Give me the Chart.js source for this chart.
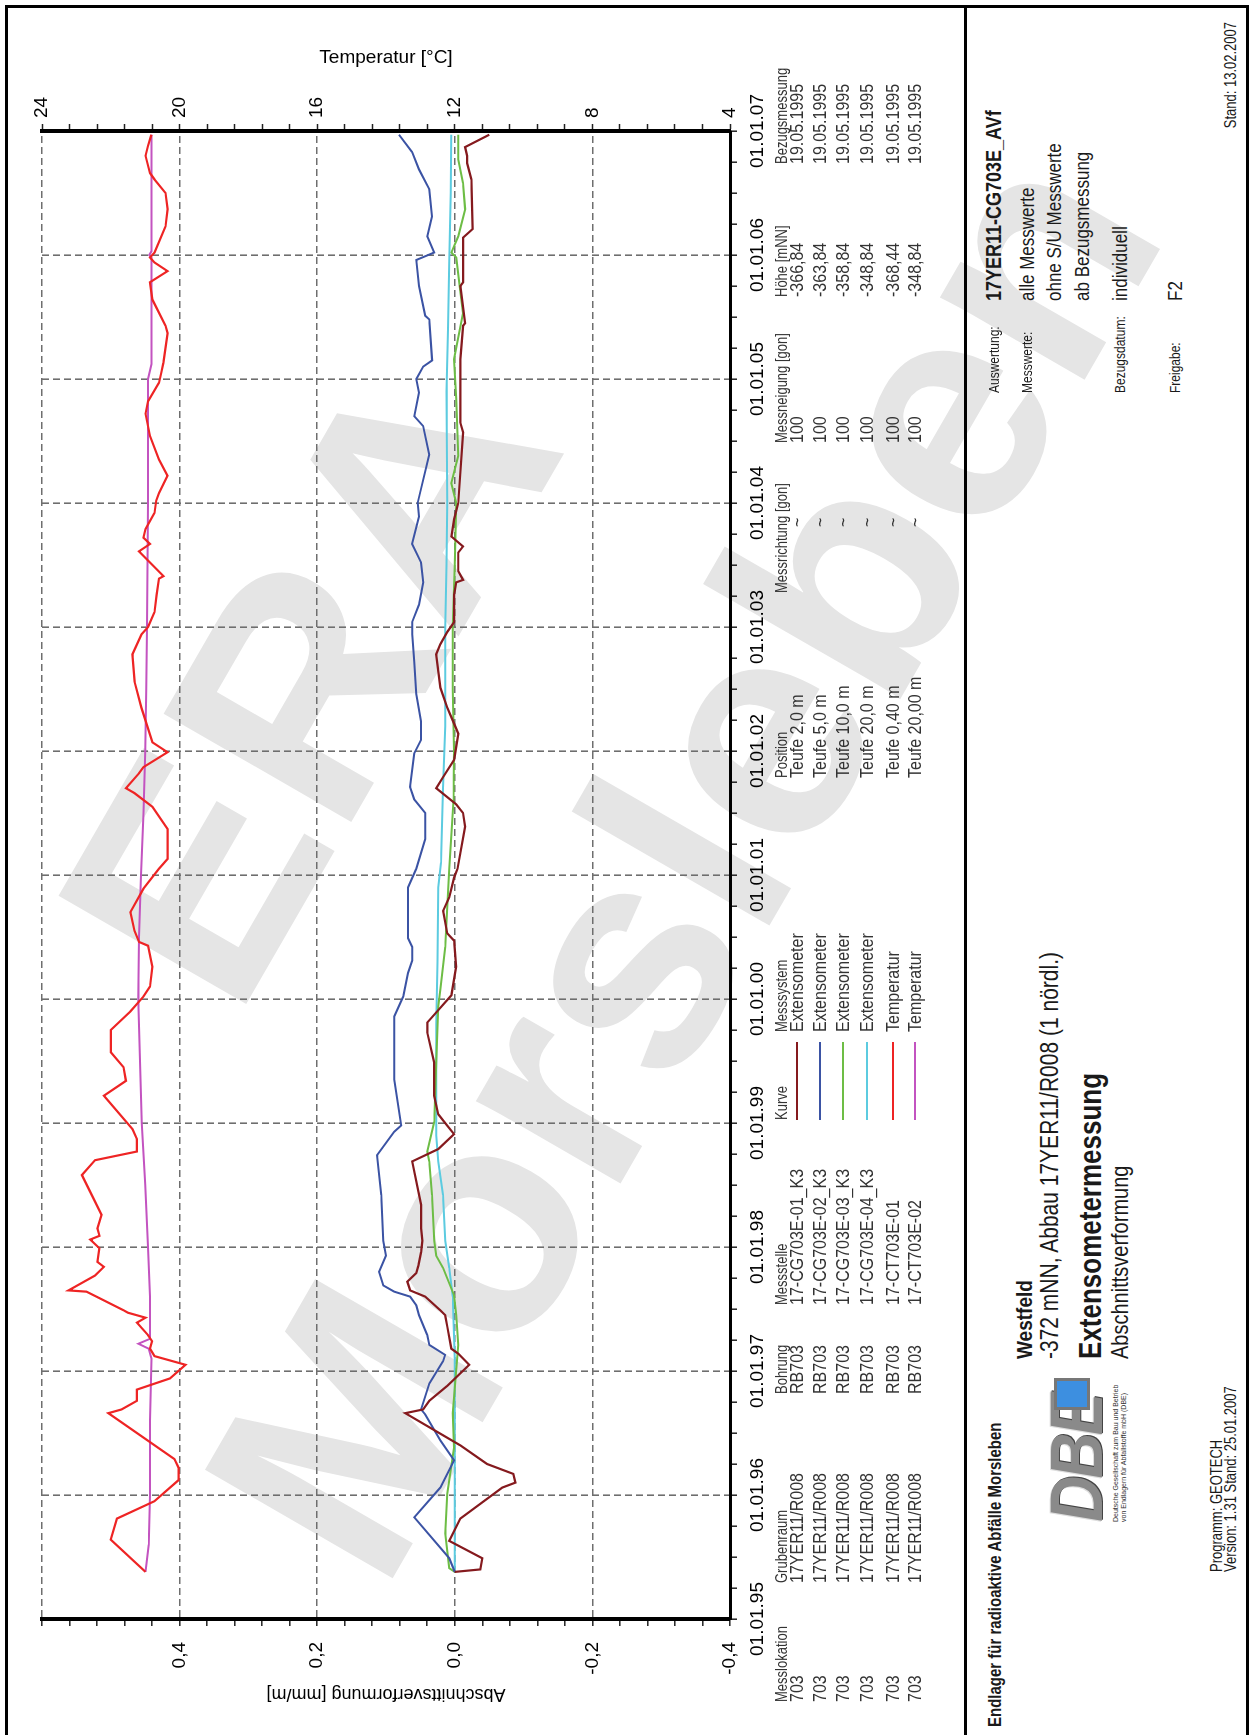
<!DOCTYPE html>
<html>
<head>
<meta charset="utf-8">
<script src="https://cdn.jsdelivr.net/npm/chart.js@4.4.1/dist/chart.umd.min.js"></script>
<style>
html, body { margin: 0; padding: 0; background: #fff; }
body { width: 1254px; height: 1735px; position: relative; overflow: hidden; font-family: 'Liberation Sans', Arial, sans-serif; }
.wm { position: absolute; font-weight: bold; font-size: 315px; color: #e5e5e5; white-space: nowrap; line-height: 1; transform: translate(-50%, -50%) rotate(-60deg); }
.frame { position: absolute; background: #000; }
#sheet { position: absolute; left: 0; top: 0; width: 1735px; height: 1254px; transform-origin: 0 0; transform: translateY(1735px) rotate(-90deg); }
#chart { position: absolute; left: 0; top: 0; width: 1735px; height: 790px; }
.t { position: absolute; white-space: nowrap; line-height: 1; transform-origin: left center; transform: translateY(-50%) scaleY(1.2); color: #1a1a1a; }
.t.right { transform-origin: right center; transform: translate(-100%, -50%) scaleY(1.2); }
.hdr { font-size: 13px; color: #333; }
.cell { font-size: 16px; color: #333; }
.lab { font-size: 12px; }
.val { font-size: 17px; }
.b18 { font-size: 18px; font-weight: bold; }
.b15 { font-size: 15px; font-weight: bold; }
.b19 { font-size: 19px; font-weight: bold; }
.r21 { font-size: 21px; }
.b26 { font-size: 26px; font-weight: bold; }
.r20 { font-size: 20px; }
.s13 { font-size: 13px; }
.kline { position: absolute; height: 2px; }
.logo { position: absolute; left: 213px; top: 1042px; width: 140px; height: 90px; }
.logo .dbe { position: absolute; left: 0; top: -8px; font: italic bold 64px 'Liberation Sans', Arial, sans-serif; letter-spacing: -3px; color: #8a8a8a; text-shadow: 1px 1px 0 #444, -1px -1px 0 #ddd; transform: scaleY(1.15); transform-origin: left top; }
.logo .sq { position: absolute; left: 112px; top: 12px; width: 26px; height: 30px; background: #3d8fe0; border: 3px solid #777; }
.logo .small { position: absolute; left: 0; top: 70px; font-size: 7px; line-height: 8px; color: #333; white-space: nowrap; }
</style>
</head>
<body>
<div class="wm" style="left:308px; top:680px;">ERA</div>
<div class="wm" style="left:682px; top:860px;">Morsleben</div>

<div class="frame" style="left:5px; top:5px; width:3px; height:1730px;"></div>
<div class="frame" style="left:5px; top:5px; width:1244px; height:3px;"></div>
<div class="frame" style="left:1246px; top:5px; width:3px; height:1730px;"></div>
<div class="frame" style="left:964px; top:5px; width:3px; height:1730px;"></div>

<div id="sheet">
  <canvas id="chart" width="1735" height="790"></canvas>
  <div class="logo">
    <span class="dbe">DBE</span><span class="sq"></span>
    <div class="small">Deutsche Gesellschaft zum Bau und Betrieb<br>von Endlagern für Abfallstoffe mbH (DBE)</div>
  </div>
</div>

<script>
// Time axis (decimal years) and its labels
const yearTicks = [1995, 1996, 1997, 1998, 1999, 2000, 2001, 2002, 2003, 2004, 2005, 2006, 2007];
const yearLabels = ['01.01.95', '01.01.96', '01.01.97', '01.01.98', '01.01.99', '01.01.00', '01.01.01',
                    '01.01.02', '01.01.03', '01.01.04', '01.01.05', '01.01.06', '01.01.07'];

// Left axis: Abschnittsverformung [mm/m]
const strainTicks = [-0.4, -0.2, 0, 0.2, 0.4, 0.6];
const strainLabels = ['-0,4', '-0,2', '0,0', '0,2', '0,4', ''];

// Right axis: Temperatur [°C]
const tempTicks = [4, 8, 12, 16, 20, 24];
const tempLabels = ['4', '8', '12', '16', '20', '24'];

// 17-CG703E-01_K3 (Teufe 2,0 m)
const k1Years = [1995.38, 1995.40, 1995.49, 1995.63, 1995.81, 1996.06, 1996.10, 1996.17, 1996.25, 1996.40,
  1996.66, 1996.69, 1996.76, 1996.88, 1997.05, 1997.14, 1997.18, 1997.36, 1997.45, 1997.49,
  1997.60, 1997.65, 1997.72, 1997.79, 1997.85, 1997.96, 1998.05, 1998.15, 1998.34, 1998.69,
  1998.74, 1998.79, 1998.91, 1998.98, 1999.07, 1999.22, 1999.49, 1999.73, 1999.81, 1999.91,
  2000.03, 2000.26, 2000.47, 2000.53, 2000.71, 2000.82, 2000.98, 2001.05, 2001.39, 2001.50,
  2001.57, 2001.70, 2001.79, 2001.93, 2002.14, 2002.22, 2002.35, 2002.51, 2002.78, 2002.86,
  2002.96, 2003.04, 2003.26, 2003.36, 2003.38, 2003.45, 2003.60, 2003.65, 2003.73, 2003.87,
  2004.00, 2004.57, 2004.65, 2005.16, 2005.43, 2005.45, 2005.75, 2005.78, 2006.14, 2006.21,
  2006.61, 2006.74, 2006.80, 2006.87, 2006.97];
const k1Values = [0, -0.037, -0.040, 0.008, -0.008, -0.069, -0.088, -0.085, -0.047, -0.008,
  0.072, 0.046, 0.037, 0.011, -0.021, -0.005, 0.005, 0.011, 0.014, 0.021,
  0.043, 0.065, 0.069, 0.056, 0.053, 0.049, 0.047, 0.049, 0.049, 0.062,
  0.043, 0.024, 0.001, 0.011, 0.024, 0.030, 0.030, 0.040, 0.040, 0.024,
  0.005, -0.002, 0.001, 0.011, 0.017, 0.008, 0.001, -0.004, -0.015, -0.012,
  -0.002, 0.027, 0.017, 0.001, -0.005, 0.001, 0.011, 0.021, 0.027, 0.021,
  0.011, 0.001, 0.001, -0.002, -0.012, -0.005, -0.005, -0.012, 0.005, 0.001,
  -0.005, -0.012, -0.008, -0.008, -0.012, -0.015, -0.008, -0.012, -0.012, -0.026,
  -0.024, -0.018, -0.018, -0.015, -0.050];

// 17-CG703E-02_K3 (Teufe 5,0 m)
const k2Years = [1995.38, 1995.49, 1995.82, 1996.06, 1996.28, 1996.44, 1996.65, 1996.69, 1996.90, 1997.08,
  1997.13, 1997.21, 1997.29, 1997.45, 1997.53, 1997.60, 1997.64, 1997.69, 1997.80, 1997.93,
  1998.05, 1998.42, 1998.74, 1998.93, 1998.98, 1999.35, 1999.86, 2000.02, 2000.21, 2000.31,
  2000.42, 2000.49, 2000.90, 2001.05, 2001.29, 2001.50, 2001.61, 2001.71, 2001.98, 2002.09,
  2002.24, 2002.46, 2002.72, 2002.94, 2003.04, 2003.18, 2003.36, 2003.52, 2003.67, 2003.89,
  2004.00, 2004.39, 2004.62, 2004.70, 2004.89, 2005.00, 2005.10, 2005.15, 2005.48, 2005.51,
  2005.75, 2005.96, 2006.02, 2006.15, 2006.31, 2006.53, 2006.69, 2006.83, 2006.97];
const k2Values = [0, 0.008, 0.059, 0.021, 0.001, 0.021, 0.043, 0.049, 0.037, 0.017,
  0.014, 0.037, 0.040, 0.052, 0.056, 0.065, 0.088, 0.104, 0.110, 0.100,
  0.104, 0.107, 0.113, 0.088, 0.078, 0.088, 0.088, 0.075, 0.068, 0.062,
  0.062, 0.068, 0.068, 0.056, 0.043, 0.043, 0.059, 0.065, 0.059, 0.049,
  0.049, 0.056, 0.059, 0.062, 0.062, 0.052, 0.046, 0.049, 0.062, 0.052,
  0.054, 0.037, 0.046, 0.059, 0.052, 0.056, 0.046, 0.033, 0.037, 0.043,
  0.052, 0.056, 0.030, 0.040, 0.033, 0.037, 0.052, 0.062, 0.081];

// 17-CG703E-03_K3 (Teufe 10,0 m)
const k3Years = [1995.38, 1995.41, 1995.69, 1996.01, 1996.38, 1996.66, 1997.21, 1997.45, 1997.61, 1997.83,
  1997.93, 1998.05, 1998.42, 1998.69, 1998.77, 1999.01, 1999.49, 1999.94, 2000.07, 2000.42,
  2000.74, 2001.05, 2001.60, 2002.00, 2002.50, 2003.00, 2003.50, 2004.00, 2004.16, 2004.38,
  2004.84, 2005.16, 2005.53, 2005.76, 2005.98, 2006.02, 2006.15, 2006.37, 2006.58, 2006.77,
  2006.97];
const k3Values = [0, 0.008, 0.014, 0.011, 0.001, 0.003, -0.005, -0.002, 0.001, 0.017,
  0.027, 0.030, 0.033, 0.037, 0.040, 0.030, 0.027, 0.024, 0.021, 0.014,
  0.011, 0.008, 0.002, 0.001, 0.003, 0.003, 0.000, -0.002, 0.005, -0.005,
  -0.002, 0.001, -0.012, -0.007, -0.002, 0.005, -0.005, -0.015, -0.012, -0.005,
  -0.005];

// 17-CG703E-04_K3 (Teufe 20,0 m)
const k4Years = [1995.38, 1996.00, 1997.10, 1997.60, 1997.83, 1998.05, 1998.42, 1998.69, 1998.90, 1999.80,
  2000.30, 2000.90, 2001.10, 2001.70, 2002.20, 2003.00, 2003.50, 2004.00, 2004.90, 2005.40,
  2005.95, 2006.50, 2006.97];
const k4Values = [0, 0, 0, 0.003, 0.008, 0.014, 0.017, 0.024, 0.027, 0.027,
  0.025, 0.024, 0.020, 0.017, 0.014, 0.014, 0.012, 0.011, 0.012, 0.010,
  0.008, 0.006, 0.005];

// 17-CT703E-01 (Temperatur, Teufe 0,40 m)
const t1Years = [1995.38, 1995.64, 1995.81, 1995.95, 1996.12, 1996.22, 1996.29, 1996.66, 1996.69, 1996.76,
  1996.85, 1996.94, 1997.05, 1997.12, 1997.18, 1997.24, 1997.29, 1997.39, 1997.43, 1997.47,
  1997.49, 1997.64, 1997.65, 1997.77, 1997.84, 1997.88, 1997.99, 1998.06, 1998.09, 1998.15,
  1998.26, 1998.58, 1998.70, 1998.77, 1998.87, 1998.95, 1999.22, 1999.34, 1999.45, 1999.57,
  1999.75, 1999.90, 2000.02, 2000.10, 2000.26, 2000.43, 2000.46, 2000.55, 2000.70, 2000.89,
  2001.05, 2001.13, 2001.37, 2001.55, 2001.66, 2001.70, 2001.82, 2001.87, 2001.99, 2002.07,
  2002.35, 2002.56, 2002.78, 2002.94, 2003.00, 2003.12, 2003.26, 2003.39, 2003.41, 2003.52,
  2003.61, 2003.67, 2003.72, 2003.79, 2003.92, 2004.02, 2004.08, 2004.22, 2004.35, 2004.54,
  2004.72, 2004.82, 2004.97, 2005.04, 2005.13, 2005.37, 2005.43, 2005.64, 2005.78, 2005.87,
  2005.94, 2005.98, 2006.02, 2006.23, 2006.37, 2006.50, 2006.61, 2006.66, 2006.80, 2006.88,
  2006.97];
const t1Values = [20.99, 22.0, 21.82, 20.73, 20.03, 20.03, 20.15, 22.07, 21.69, 21.24,
  21.24, 20.28, 19.83, 20.73, 20.86, 20.8, 20.92, 21.24, 20.99, 21.5,
  21.63, 22.71, 23.23, 22.46, 22.2, 22.39, 22.33, 22.6, 22.33, 22.39,
  22.27, 22.84, 22.46, 21.24, 21.24, 21.37, 22.2, 21.56, 21.63, 22.0,
  22.0, 21.43, 21.05, 20.86, 20.79, 20.92, 21.18, 21.31, 21.43, 21.05,
  20.6, 20.35, 20.35, 20.79, 21.31, 21.56, 21.18, 21.05, 20.35, 20.79,
  21.11, 21.31, 21.37, 21.11, 20.92, 20.73, 20.67, 20.6, 20.47, 20.86,
  21.18, 20.86, 21.05, 20.99, 20.73, 20.68, 20.6, 20.35, 20.6, 20.86,
  20.99, 20.92, 20.6, 20.54, 20.47, 20.35, 20.41, 20.79, 20.86, 20.35,
  20.73, 20.86, 20.73, 20.41, 20.35, 20.41, 20.73, 20.86, 20.99, 20.92,
  20.82];

// 17-CT703E-02 (Temperatur, Teufe 20,00 m)
const t2Years = [1995.38, 1995.60, 1996.00, 1996.60, 1997.10, 1997.18, 1997.22, 1997.26, 1997.60, 1998.00,
  1998.50, 1999.00, 1999.50, 2000.00, 2000.50, 2001.00, 2001.50, 2002.00, 2002.50, 2003.00,
  2003.50, 2004.00, 2005.00, 2005.12, 2005.98, 2006.00, 2006.03, 2006.97];
const t2Values = [20.99, 20.9, 20.86, 20.86, 20.82, 20.9, 21.2, 20.86, 20.86, 20.92,
  21.0, 21.1, 21.15, 21.2, 21.18, 21.12, 21.05, 21.0, 20.97, 20.95,
  20.93, 20.92, 20.92, 20.82, 20.82, 20.88, 20.82, 20.82];

// Legend table columns
const messstellen = ['17-CG703E-01_K3', '17-CG703E-02_K3', '17-CG703E-03_K3', '17-CG703E-04_K3', '17-CT703E-01', '17-CT703E-02'];
const messsysteme = ['Extensometer', 'Extensometer', 'Extensometer', 'Extensometer', 'Temperatur', 'Temperatur'];
const positionen = ['Teufe 2,0 m', 'Teufe 5,0 m', 'Teufe 10,0 m', 'Teufe 20,0 m', 'Teufe 0,40 m', 'Teufe 20,00 m'];
const hoehen = ['-366,84', '-363,84', '-358,84', '-348,84', '-368,44', '-348,84'];

const seriesColors = ['#851a1e', '#3b53a4', '#6dbd45', '#5ccbe0', '#ee2424', '#c353c0'];
const FONT = "'Liberation Sans', Arial, sans-serif";

const sheet = document.getElementById('sheet');

function near(list, v) {
    return list.findIndex(t => Math.abs(t - v) < 1e-6);
}

// major ticks plus evenly spaced minor ticks between them
function withMinor(list, parts) {
    const out = [];
    for (let i = 0; i < list.length - 1; i++) {
        const step = (list[i + 1] - list[i]) / parts;
        for (let k = 0; k < parts; k++) {
            out.push({ value: Math.round((list[i] + k * step) * 10000) / 10000 });
        }
    }
    out.push({ value: list[list.length - 1] });
    return out;
}

function pts(years, values) {
    return years.map((x, i) => ({ x: x, y: values[i] }));
}

function gridColor(list) {
    return c => (c.tick && near(list, c.tick.value) >= 0) ? '#6e6e6e' : 'rgba(0,0,0,0)';
}

const ctx = document.getElementById('chart').getContext('2d');

new Chart(ctx, {
    type: 'line',
    data: {
        datasets: [
            { data: pts(k1Years, k1Values), borderColor: seriesColors[0], borderWidth: 2.2, yAxisID: 'y' },
            { data: pts(k2Years, k2Values), borderColor: seriesColors[1], borderWidth: 2, yAxisID: 'y' },
            { data: pts(k3Years, k3Values), borderColor: seriesColors[2], borderWidth: 2, yAxisID: 'y' },
            { data: pts(k4Years, k4Values), borderColor: seriesColors[3], borderWidth: 2, yAxisID: 'y' },
            { data: pts(t1Years, t1Values), borderColor: seriesColors[4], borderWidth: 2.2, yAxisID: 'temp' },
            { data: pts(t2Years, t2Values), borderColor: seriesColors[5], borderWidth: 2, yAxisID: 'temp' }
        ]
    },
    options: {
        responsive: false,
        animation: false,
        devicePixelRatio: 1,
        layout: { padding: { top: 42, left: 0, right: 0, bottom: 0 } },
        plugins: { legend: { display: false }, tooltip: { enabled: false } },
        elements: { point: { radius: 0 }, line: { tension: 0, fill: false } },
        scales: {
            x: {
                type: 'linear',
                min: 1995,
                max: 2007,
                afterBuildTicks: s => { s.ticks = withMinor(yearTicks, 4); },
                afterFit: s => { s.height = 60; },
                ticks: {
                    autoSkip: false, maxRotation: 0, minRotation: 0, padding: 9,
                    color: '#000', font: { family: FONT, size: 19 },
                    callback: v => { const i = near(yearTicks, v); return i < 0 ? '' : yearLabels[i]; }
                },
                grid: { color: gridColor(yearTicks), lineWidth: 1.6, tickColor: '#222', tickWidth: 1.5, tickLength: 7 },
                border: { color: '#000', width: 3, dash: [7, 4] }
            },
            y: {
                position: 'left',
                min: -0.4,
                max: 0.6,
                afterBuildTicks: s => { s.ticks = withMinor(strainTicks, 5); },
                afterFit: s => { s.width = 116; },
                ticks: {
                    autoSkip: false, padding: 16,
                    color: '#000', font: { family: FONT, size: 19 },
                    callback: v => { const i = near(strainTicks, v); return i < 0 ? '' : strainLabels[i]; }
                },
                title: {
                    display: true, text: 'Abschnittsverformung [mm/m]', color: '#000',
                    font: { family: FONT, size: 18 }, padding: { top: 30, bottom: 0 }
                },
                grid: { color: gridColor(strainTicks), lineWidth: 1.6, tickColor: '#222', tickWidth: 1.5, tickLength: 7 },
                border: { color: '#000', width: 4, dash: [7, 4] }
            },
            temp: {
                position: 'right',
                min: 4,
                max: 24,
                afterBuildTicks: s => { s.ticks = withMinor(tempTicks, 5); },
                afterFit: s => { s.width = 131; },
                ticks: {
                    autoSkip: false, padding: 6,
                    color: '#000', font: { family: FONT, size: 19 },
                    callback: v => { const i = near(tempTicks, v); return i < 0 ? '' : tempLabels[i]; }
                },
                title: {
                    display: true, text: 'Temperatur [°C]', color: '#000',
                    font: { family: FONT, size: 19 }, padding: { top: 46, bottom: 0 }
                },
                grid: { drawOnChartArea: false, color: '#222', tickColor: '#222', tickWidth: 1.5, tickLength: 7 },
                border: { color: '#000', width: 4 }
            }
        }
    }
});

// text helper, coordinates in the unrotated sheet
function addText(txt, lx, ly, cls) {
    const d = document.createElement('div');
    d.className = 't ' + cls;
    d.textContent = txt;
    d.style.left = lx + 'px';
    d.style.top = ly + 'px';
    sheet.appendChild(d);
    return d;
}

// Legend table
const headerY = 782;
const rowY = [797, 820, 843, 867, 893, 915];
const columns = [
    { head: 'Messlokation', x: 33, cell: () => '703' },
    { head: 'Grubenraum', x: 152, cell: () => '17YER11/R008' },
    { head: 'Bohrung', x: 341, cell: () => 'RB703' },
    { head: 'Messstelle', x: 430, cell: i => messstellen[i] },
    { head: 'Kurve', x: 615, cell: null },
    { head: 'Messsystem', x: 703, cell: i => messsysteme[i] },
    { head: 'Position', x: 957, cell: i => positionen[i] },
    { head: 'Messrichtung [gon]', x: 1142, cell: () => '~', dx: 66 },
    { head: 'Messneigung [gon]', x: 1292, cell: () => '100' },
    { head: 'Höhe [mNN]', x: 1438, cell: i => hoehen[i] },
    { head: 'Bezugsmessung', x: 1571, cell: () => '19.05.1995' }
];

columns.forEach(col => {
    addText(col.head, col.x, headerY, 'hdr');
    rowY.forEach((y, i) => {
        if (col.cell) {
            addText(col.cell(i), col.x + (col.dx || 0), y, 'cell');
        } else {
            const l = document.createElement('div');
            l.className = 'kline';
            l.style.left = col.x + 'px';
            l.style.top = (y - 1) + 'px';
            l.style.width = '78px';
            l.style.background = seriesColors[i];
            sheet.appendChild(l);
        }
    });
});

// Info block
addText('Auswertung:', 1342, 994, 'lab');
addText('17YER11-CG703E_AVf', 1434, 994, 'b18');
addText('Messwerte:', 1342, 1027, 'lab');
addText('alle Messwerte', 1434, 1027, 'val');
addText('ohne S/U Messwerte', 1434, 1054, 'val');
addText('ab Bezugsmessung', 1434, 1082, 'val');
addText('Bezugsdatum:', 1342, 1120, 'lab');
addText('individuell', 1434, 1120, 'val');
addText('Freigabe:', 1342, 1175, 'lab');
addText('F2', 1434, 1175, 'val');
addText('Stand:  13.02.2007', 1713, 1231, 's13 right');

addText('Endlager für radioaktive Abfälle Morsleben', 8, 994, 'b15');
addText('Westfeld', 376, 1024, 'b19');
addText('-372 mNN, Abbau 17YER11/R008 (1 nördl.)', 376, 1049, 'r21');
addText('Extensometermessung', 376, 1090, 'b26');
addText('Abschnittsverformung', 376, 1120, 'r20');
addText('Programm: GEOTECH', 163, 1217, 's13');
addText('Version: 1.31    Stand: 25.01.2007', 163, 1231, 's13');
</script>
</body>
</html>
